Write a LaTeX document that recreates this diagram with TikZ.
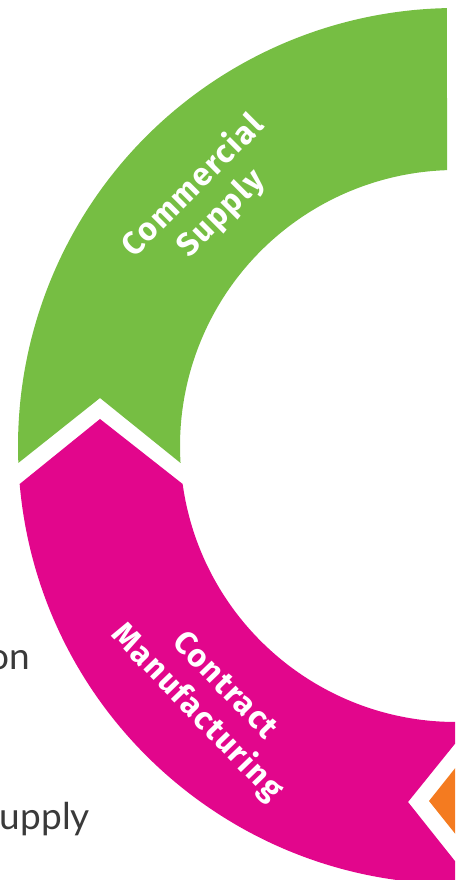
\documentclass[tikz,border=0pt]{standalone}
\usepackage{fontspec}
\usetikzlibrary{calc}
\definecolor{segGreen}{HTML}{76BE43}
\definecolor{segMagenta}{HTML}{E2068C}
\definecolor{segOrange}{HTML}{F47B20}
\definecolor{txtGray}{HTML}{3A3A3A}
\newfontfamily\labelfont[LetterSpace=5]{Fira Sans}
\newfontfamily\sidefont{Lato}
\tikzset{
  seglabel/.style={text=white, align=center, inner sep=0pt,
    font=\labelfont\bfseries\fontsize{32pt}{39pt}\selectfont},
  sidetext/.style={text=txtGray, inner sep=0pt, anchor=base east,
    font=\sidefont\fontsize{37pt}{44pt}\selectfont}
}
\begin{document}
\begin{tikzpicture}[x=1pt,y=1pt]
\clip (0,0) rectangle (455,880);
\coordinate (C) at (456,434);
% green segment
\fill[segGreen] ($(C)+(91.18:438)$) arc[start angle=91.18,end angle=182.22,radius=438pt]
  -- (100,482) -- ($(C)+(183.53:276)$) arc[start angle=183.53,end angle=91.87,radius=276pt] -- cycle;
% magenta segment
\fill[segMagenta] ($(C)+(184.98:438)$) arc[start angle=184.98,end angle=272.22,radius=438pt]
  -- (408,78) -- ($(C)+(273.53:276)$) arc[start angle=273.53,end angle=187.91,radius=276pt]
  -- (100,461) -- cycle;
% orange segment
\fill[segOrange] ($(C)+(274.98:438)$) -- (429,79) -- ($(C)+(277.91:276)$)
  arc[start angle=277.91,end angle=360,radius=276pt] -- ($(C)+(0:438)$)
  arc[start angle=360,end angle=274.98,radius=438pt] -- cycle;
% labels
\node[seglabel, rotate=45] (commercial) at (207,680) {Commercial\\Supply};
\node[seglabel, rotate=-46] (contract) at (210,180) {Contract\\Manufacturing};
% cut-off side texts
\node[sidetext] (on) at (30,210) {on};
\node[sidetext] (upply) at (90,50) {upply};
\end{tikzpicture}
\end{document}
